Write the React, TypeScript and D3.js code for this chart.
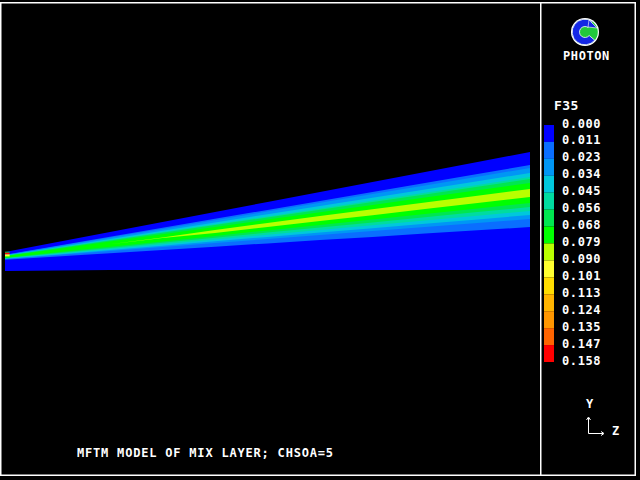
import React from 'react';
import * as d3 from 'd3';

// ---- data (z in grid-cell units, y in domain units) ----
const stationZ = [0, 5, 10, 15, 20, 25, 30, 35, 40, 45, 50];
const domainTop = [18, 28, 38, 48, 58, 68, 78, 88, 98, 108, 118];
const domainBottom = [-1, -0.5, 0, 0, 0, 0, 0, 0, 0, 0, 0];

const band1Upper = [15.2, 24.2, 33.2, 42.2, 51.2, 60.1, 69.1, 78.1, 87.1, 96.0, 105];
const band2Upper = [15.0, 23.7, 32.4, 41.1, 49.8, 58.5, 67.2, 75.9, 84.6, 93.3, 102];
const band3Upper = [14.6, 22.8, 31.1, 39.3, 47.6, 55.8, 64.0, 72.3, 80.5, 88.8, 97];
const band4Upper = [14.3, 22.2, 30.0, 37.9, 45.8, 53.6, 61.5, 69.4, 77.3, 85.1, 93];
const band5Upper = [14.1, 21.8, 29.5, 37.2, 44.9, 52.6, 60.2, 68.0, 75.6, 83.3, 91];
const band6Upper = [13.8, 21.1, 28.4, 35.8, 43.1, 50.4, 57.7, 65.1, 72.4, 79.7, 87];
const band7Upper = [13.0, 19.4, 25.8, 32.5, 40.1, 47.0, 53.9, 60.8, 67.5, 74.2, 81];
const band7Lower = [13.0, 19.4, 25.8, 31.9, 37.1, 43.0, 48.9, 54.8, 60.9, 67.0, 73];
const band6Lower = [12.2, 17.7, 23.2, 28.6, 34.1, 39.6, 45.1, 50.5, 56.0, 61.5, 67];
const band5Lower = [11.9, 17.0, 22.1, 27.2, 32.3, 37.4, 42.6, 47.6, 52.8, 57.9, 63];
const band4Lower = [11.6, 16.3, 21.0, 25.8, 30.5, 35.3, 40.0, 44.8, 49.5, 54.3, 59];
const band3Lower = [11.2, 15.6, 20.0, 24.3, 28.7, 33.1, 37.5, 41.8, 46.2, 50.6, 55];
const band2Lower = [10.9, 14.9, 18.9, 22.9, 26.9, 31.0, 35.0, 38.9, 43.0, 47.0, 51];
const band1Lower = [10.3, 13.6, 16.8, 20.1, 23.3, 26.6, 29.9, 33.1, 36.4, 39.7, 43];

// inlet cells: [zStart, zEnd, yLow, yHigh, legend colour index]
const inletCells: [number, number, number, number, number][] = [
  [0, 0.25, 17.3, 18.3, 6],
  [0, 0.25, 15.6, 17.3, 13],
  [0, 0.25, 13.6, 15.6, 8],
];

const legendLabels = ['0.000', '0.011', '0.023', '0.034', '0.045', '0.056', '0.068', '0.079', '0.090', '0.101', '0.113', '0.124', '0.135', '0.147', '0.158'];
const boxColors = ['#0000ff', '#0a6eff', '#0096f5', '#00c8dc', '#00dca0', '#00e650', '#00ff00', '#b9ff00', '#ffff30', '#ffdc00', '#ffb400', '#ff9600', '#ff6400', '#ff0000'];

const variableName = 'F35';
const titleText = 'MFTM MODEL OF MIX LAYER; CHSOA=5';
const logoText = 'PHOTON';

const bands = [
  { upper: band1Upper, lower: band1Lower, color: boxColors[1] },
  { upper: band2Upper, lower: band2Lower, color: boxColors[2] },
  { upper: band3Upper, lower: band3Lower, color: boxColors[3] },
  { upper: band4Upper, lower: band4Lower, color: boxColors[4] },
  { upper: band5Upper, lower: band5Lower, color: boxColors[5] },
  { upper: band6Upper, lower: band6Lower, color: boxColors[6] },
  { upper: band7Upper, lower: band7Lower, color: boxColors[7] },
];

const FONT = '"DejaVu Sans Mono", monospace';

export default function App() {
  const x = d3.scaleLinear().domain([0, 50]).range([5, 530]);
  const y = d3.scaleLinear().domain([0, 120]).range([270, 150]);

  const areaFor = (upper: number[], lower: number[]) =>
    d3
      .area<number>()
      .x((_, i) => x(stationZ[i]))
      .y0((_, i) => y(lower[i]))
      .y1((_, i) => y(upper[i]))
      .curve(d3.curveLinear)(stationZ.map((_, i) => i)) as string;

  const legIdx = d3.scaleLinear().domain([0, 14]).range([123, 360]);

  // logo "C" arc, opening to the right
  const cArc = d3
    .arc()
    .innerRadius(5.5)
    .outerRadius(12.8)
    .startAngle((130 * Math.PI) / 180)
    .endAngle((395 * Math.PI) / 180)({} as any) as string;

  return (
    <svg
      width={640}
      height={480}
      style={{ position: 'absolute', left: 0, top: 0, display: 'block' }}
    >
      <rect x={0} y={0} width={640} height={480} fill="#000" />

      {/* domain */}
      <path d={areaFor(domainTop, domainBottom)} fill={boxColors[0]} />
      {bands.map((b, i) => (
        <path key={i} d={areaFor(b.upper, b.lower)} fill={b.color} />
      ))}
      {inletCells.map((c, i) => (
        <rect
          key={i}
          x={x(c[0])}
          y={y(c[3])}
          width={x(c[1]) - x(c[0]) + 2}
          height={y(c[2]) - y(c[3])}
          fill={boxColors[c[4]]}
        />
      ))}

      {/* frame */}
      <rect x={0} y={2} width={636} height={1.5} fill="#fff" />
      <rect x={0} y={2} width={1.5} height={474} fill="#fff" />
      <rect x={634.5} y={2} width={1.5} height={474} fill="#fff" />
      <rect x={0} y={474.5} width={636} height={1.5} fill="#fff" />
      <rect x={540} y={2} width={1.5} height={474} fill="#fff" />

      {/* logo */}
      <g transform="translate(585,32)">
        <circle r={14} fill="#fff" />
        <circle r={12.8} fill="#22c83c" />
        <path d={cArc} fill="#1428e6" stroke="#fff" strokeWidth={0.8} />
        <path d="M 4 -12 L 12 -4 L 3 -5 Z" fill="#1428e6" stroke="#fff" strokeWidth={0.6} />
      </g>
      <text x={563} y={60} fill="#fff" fontFamily={FONT} fontWeight="bold" fontSize={12} letterSpacing={0.6}>
        {logoText}
      </text>

      {/* legend */}
      <text x={554} y={110} fill="#fff" fontFamily={FONT} fontWeight="bold" fontSize={13} letterSpacing={0.4}>
        {variableName}
      </text>
      {boxColors.map((c, i) => (
        <rect key={i} x={544} y={legIdx(i) + 2} width={10} height={legIdx(i + 1) - legIdx(i)} fill={c} />
      ))}
      {legendLabels.map((l, i) => (
        <text
          key={l}
          x={562}
          y={legIdx(i) + 4.5}
          fill="#fff"
          fontFamily={FONT}
          fontWeight="bold"
          fontSize={12}
          letterSpacing={0.6}
        >
          {l}
        </text>
      ))}

      {/* axis indicator */}
      <text x={586} y={408} fill="#fff" fontFamily={FONT} fontWeight="bold" fontSize={12}>Y</text>
      <text x={612} y={435} fill="#fff" fontFamily={FONT} fontWeight="bold" fontSize={12}>Z</text>
      <path d="M 588.5 433.5 L 588.5 418 M 588.5 433.5 L 603 433.5" stroke="#fff" strokeWidth={1} fill="none" />
      <path d="M 586.5 420 L 588.5 417 L 590.5 420" stroke="#fff" strokeWidth={1} fill="none" />
      <path d="M 601 431.5 L 604 433.5 L 601 435.5" stroke="#fff" strokeWidth={1} fill="none" />

      {/* title */}
      <text x={77} y={457} fill="#fff" fontFamily={FONT} fontWeight="bold" fontSize={12} letterSpacing={0.8}>
        {titleText}
      </text>
    </svg>
  );
}
